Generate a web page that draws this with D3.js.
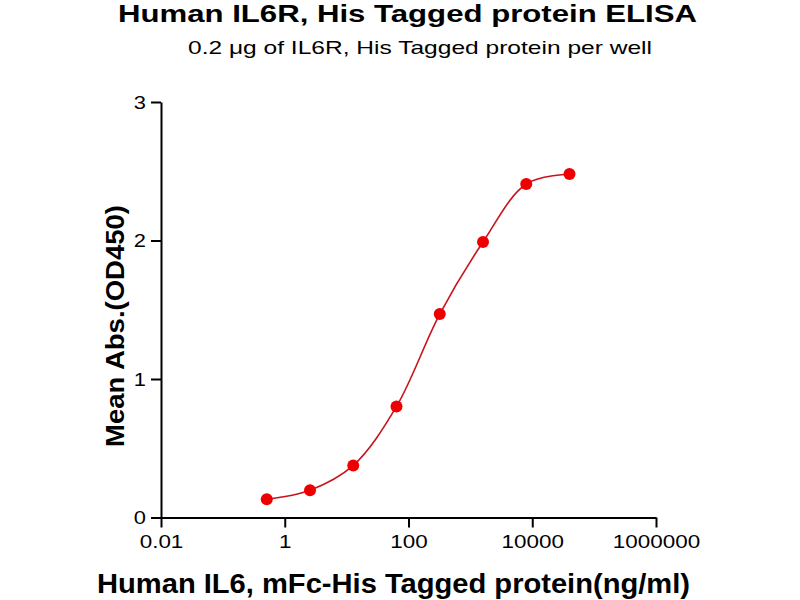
<!DOCTYPE html>
<html><head><meta charset="utf-8">
<script src="https://cdn.jsdelivr.net/npm/d3@7"></script>
<style>body{margin:0;background:#fff}svg{display:block}text{font-family:"Liberation Sans",Arial,sans-serif}</style>
</head><body>
<script>
const concentrations = [0.512, 2.56, 12.8, 64, 320, 1600, 8000, 40000];
const absorbance = [0.132, 0.197, 0.376, 0.802, 1.469, 1.989, 2.408, 2.48];
const xTicks = [0.01, 1, 100, 10000, 1000000];
const xTickLabels = ["0.01", "1", "100", "10000", "1000000"];
const yTicks = [0, 1, 2, 3];
const title = "Human IL6R, His Tagged protein ELISA";
const subtitle = "0.2 μg of IL6R, His Tagged protein per well";
const xTitle = "Human IL6, mFc-His Tagged protein(ng/ml)";
const yTitle = "Mean Abs.(OD450)";

const W = 800, H = 600;
const svg = d3.select("body").append("svg").attr("width", W).attr("height", H);
const x = d3.scaleLog().domain([0.01, 1000000]).range([161, 656]);
const y = d3.scaleLinear().domain([0, 3]).range([517.5, 102]);

function stretch(sel, factor) {
  sel.each(function() {
    const w = this.getComputedTextLength();
    d3.select(this).attr("textLength", w * factor).attr("lengthAdjust", "spacingAndGlyphs");
  });
}

const t1 = svg.append("text").attr("x", 407.5).attr("y", 22).attr("text-anchor", "middle")
  .attr("font-size", 24).attr("font-weight", "bold").text(title);
stretch(t1, 579 / t1.node().getComputedTextLength());
const t2 = svg.append("text").attr("x", 420).attr("y", 54).attr("text-anchor", "middle")
  .attr("font-size", 19).text(subtitle);
stretch(t2, 464 / t2.node().getComputedTextLength());

const xa = svg.append("g").attr("transform", `translate(0,${y(0)})`)
  .call(d3.axisBottom(x).tickValues(xTicks).tickFormat((d,i)=>xTickLabels[i]).tickSize(10).tickPadding(7).tickSizeOuter(0));
const ya = svg.append("g").attr("transform", `translate(${x(0.01)},0)`)
  .call(d3.axisLeft(y).tickValues(yTicks).tickFormat(d3.format("d")).tickSize(10).tickPadding(5).tickSizeOuter(0));
[xa, ya].forEach(g => {
  g.select(".domain").attr("stroke", "#000").attr("stroke-width", 2);
  g.selectAll(".tick line").attr("stroke", "#000").attr("stroke-width", 2);
  g.selectAll(".tick text").attr("font-size", 19).attr("fill", "#000")
    .attr("font-family", '"Liberation Sans",Arial,sans-serif');
});
stretch(xa.selectAll(".tick text"), 1.18);
stretch(ya.selectAll(".tick text"), 1.15);

const xl = svg.append("text").attr("x", 393.5).attr("y", 593).attr("text-anchor", "middle")
  .attr("font-size", 28).attr("font-weight", "bold").text(xTitle);
stretch(xl, 593 / xl.node().getComputedTextLength());
const yl = svg.append("text").attr("transform", `translate(124,326) rotate(-90)`).attr("text-anchor", "middle")
  .attr("font-size", 26).attr("font-weight", "bold").text(yTitle);
stretch(yl, 242 / yl.node().getComputedTextLength());

const pts = concentrations.map((c,i)=>[c, absorbance[i]]);
svg.append("path").datum(pts)
  .attr("d", d3.line().x(d=>x(d[0])).y(d=>y(d[1])).curve(d3.curveCatmullRom.alpha(0.5)))
  .attr("fill", "none").attr("stroke", "#c8141e").attr("stroke-width", 1.6);
svg.selectAll("circle.pt").data(pts).enter().append("circle")
  .attr("cx", d=>x(d[0])).attr("cy", d=>y(d[1])).attr("r", 6).attr("fill", "#ee0000");
</script>
</body></html>
